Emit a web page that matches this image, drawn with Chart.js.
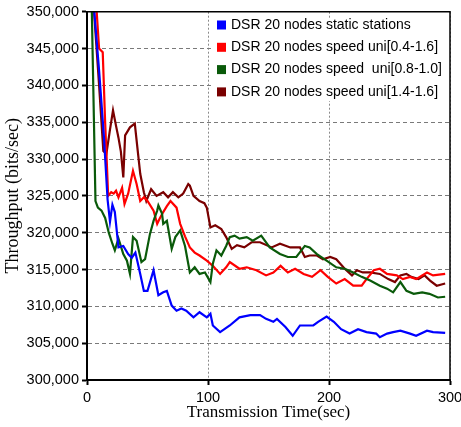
<!DOCTYPE html>
<html>
<head>
<meta charset="utf-8">
<script src="https://cdn.jsdelivr.net/npm/chart.js@4/dist/chart.umd.min.js"></script>
<style>
  html, body { margin: 0; padding: 0; background: #fff; }
  #wrap { width: 461px; height: 427px; }
</style>
</head>
<body>
<div id="wrap"><canvas id="thr" width="461" height="427"></canvas></div>
<script>
// ── throughput vs time, DSR 20 nodes ─────────

const seriesNames = [
  'DSR 20 nodes static stations',
  'DSR 20 nodes speed uni[0.4-1.6]',
  'DSR 20 nodes speed  uni[0.8-1.0]',
  'DSR 20 nodes speed uni[1.4-1.6]'
];
const seriesColors = ['#0000ff', '#ff0000', '#0a5a0a', '#7a0000'];

// static stations
const staticTime = [2,6,10,14,17,19,21,23,26,30,34,37,40,44,47,50,55,59,63,66,70,74,78,82,88,93,99,102,104,110,118,126,135,143,148,154,157,164,170,176,182,187,191,198,204,210,217,224,231,239,242,248,253,259,267,272,281,286,296];
const staticThr  = [362000,350000,342000,333000,324500,321500,323800,322800,318000,318200,317100,316600,317300,314400,312100,312100,314900,311500,311900,312100,310100,309400,309700,309400,308500,309200,308500,309000,307400,306500,307400,308500,308800,308800,308300,307900,308300,307200,306000,307400,307400,307400,307900,308600,307900,306900,306300,306900,306500,306300,305800,306300,306500,306700,306300,306000,306700,306500,306400];

// speed uni[0.4-1.6]
const spd04Time = [4,8,10,13,15,17.5,20,22,24,26,29,31,34,38,41,44,47,50,55,58,60,63,66,69,74,77,81,85,89,93,99,104,110,115,118,126,132,140,148,154,160,166,172,179,186,193,199,206,213,220,227,231,237,242,248,256,261,267,272,281,286,296];
const spd04Thr  = [362000,350000,345000,344500,335000,325000,325500,325300,325700,324800,326100,323900,325300,328400,326600,324300,324800,324300,323000,321200,321900,322800,323600,324300,323400,321200,319500,318000,317300,316900,316200,315500,314400,315300,316000,315100,315300,314900,314200,314600,315500,314600,315100,314400,314000,314900,314000,313100,313700,312800,312800,313700,314900,315100,314400,314200,313700,314000,313700,314600,314200,314400];

// speed uni[0.8-1.0]
const spd08Time = [2,4,7,9,12,15,18,21,23,26,30,33,35.5,38,41,45,48,52,55,58,59,62,63,66,70,73,77,81,85,89,93,97.5,102,104,107,111,115,118,122,126,132,137,144,151,159.5,166,173,180,184,190,198,206,213,220,227,234,242,248,253,259,264,270,277,283,290,296];
const spd08Thr  = [362000,350000,324300,323400,323000,322000,320000,318500,317600,319200,317100,316200,314400,319400,318900,316000,316400,319800,321600,323000,323700,322600,321200,321600,317800,319400,320300,318200,314600,315300,314400,314600,313300,315800,317600,316900,318200,319400,319600,319200,319400,318900,319600,318000,317100,316700,316700,318200,318000,317100,316200,315300,315100,314600,314000,313500,312800,312400,311900,313300,312100,311700,311900,311700,311200,311300];

// speed uni[1.4-1.6]
const spd14Time = [3,5,7,10,13.5,16,19,21.5,24,26,28,30,31.5,35.5,39.5,42,44,47,49,53,57.5,63,67,71,75.5,79.5,83.7,85,88,93,97,99,102,106,111,115,119.6,124,130,136,143,152.6,159.5,168,176,180,184,190,195,201,206,213,219,223,228,234,242,249,254.5,259,264,268,274,279,283.5,289,296];
const spd14Thr  = [362000,352000,347200,340000,331100,330700,334000,336600,334500,332900,331000,327500,333200,334300,334800,331000,328000,325500,324300,325900,325000,325500,324800,325500,324800,325300,326600,326400,325000,324300,324000,323400,320700,321000,320500,319400,317800,318300,318000,318700,318700,318000,318500,318000,318000,316700,316900,316900,316400,316700,316400,315100,314200,314900,314600,314600,314400,313700,313300,314200,314400,314000,313700,314200,313500,312800,313100];

const xTicks = [0, 100, 200, 300];
const yMin = 300000, yMax = 350000, yStep = 5000;

const pairs = (ts, vs) => ts.map((t, i) => ({ x: t, y: vs[i] }));
const allTimes = [staticTime, spd04Time, spd08Time, spd14Time];
const allThr   = [staticThr, spd04Thr, spd08Thr, spd14Thr];
const drawOrder = [0, 2, 1, 3];   // green over red, dark red at the back

const tickFont = { family: "'Liberation Sans', Arial, sans-serif", size: 14.5 };
const yTitleFont = { family: "'Liberation Serif', 'Times New Roman', serif", size: 18 };
const xTitleFont = { family: "'Liberation Serif', 'Times New Roman', serif", size: 17 };

// legend box + top/right frame, drawn over the plot
const frameLegend = {
  id: 'frame-legend',
  afterDraw(chart) {
    const { ctx: c, chartArea: a } = chart;
    c.save();
    c.strokeStyle = '#000'; c.lineWidth = 1.5;
    c.beginPath();
    c.moveTo(a.left, a.top); c.lineTo(a.right, a.top); c.lineTo(a.right, a.bottom);
    c.stroke();

    c.fillStyle = '#fff';
    c.fillRect(212, 18, a.right - 213, 83);
    c.font = "14px 'Liberation Sans', Arial, sans-serif";
    c.textBaseline = 'middle'; c.textAlign = 'left';
    chart.data.datasets.forEach((ds, i) => {
      const y = 25 + i * 22.3;
      c.fillStyle = ds.borderColor;
      c.fillRect(217, y - 4.5, 9, 9);
      c.fillStyle = '#000';
      c.fillText(ds.label, 231, y);
    });
    c.restore();
  }
};

new Chart(document.getElementById('thr'), {
  type: 'line',
  data: {
    datasets: seriesNames.map((name, i) => ({
      label: name,
      data: pairs(allTimes[i], allThr[i]),
      borderColor: seriesColors[i],
      backgroundColor: seriesColors[i],
      borderWidth: 2.2, pointRadius: 0, tension: 0, fill: false,
      order: drawOrder[i]
    }))
  },
  options: {
    responsive: false, animation: false,
    layout: { padding: { left: 0, top: 11, right: 11, bottom: 0 } },
    plugins: { legend: { display: false }, tooltip: { enabled: false } },
    scales: {
      x: {
        type: 'linear', min: 0, max: 300,
        afterBuildTicks: s => { s.ticks = xTicks.map(v => ({ value: v })); },
        afterFit: s => { s.height = 47; s.paddingLeft = 0; s.paddingRight = 0; },
        grid: { color: '#8a8a8a', lineWidth: 1, tickLength: 5, tickColor: '#000', tickWidth: 2, tickBorderDash: [] },
        border: { display: true, color: '#000', width: 2, dash: [2, 2] },
        ticks: { color: '#000', font: tickFont, padding: 4, maxRotation: 0 },
        title: { display: true, text: 'Transmission Time(sec)', color: '#000', font: xTitleFont, padding: { top: 0, bottom: 4 } }
      },
      y: {
        min: yMin, max: yMax,
        ticks: { stepSize: yStep, color: '#000', font: tickFont, padding: 3,
          callback: v => v.toLocaleString('en-US') },
        afterFit: s => { s.width = 87; },
        grid: { color: '#7a7a7a', lineWidth: 1, tickLength: 5, tickColor: '#000', tickWidth: 2, tickBorderDash: [] },
        border: { display: true, color: '#000', width: 2, dash: [4, 3] },
        title: { display: true, text: 'Throughput (bits/sec)', color: '#000', font: yTitleFont, padding: { top: 2, bottom: 0 } }
      }
    }
  },
  plugins: [frameLegend]
});
</script>
</body>
</html>
